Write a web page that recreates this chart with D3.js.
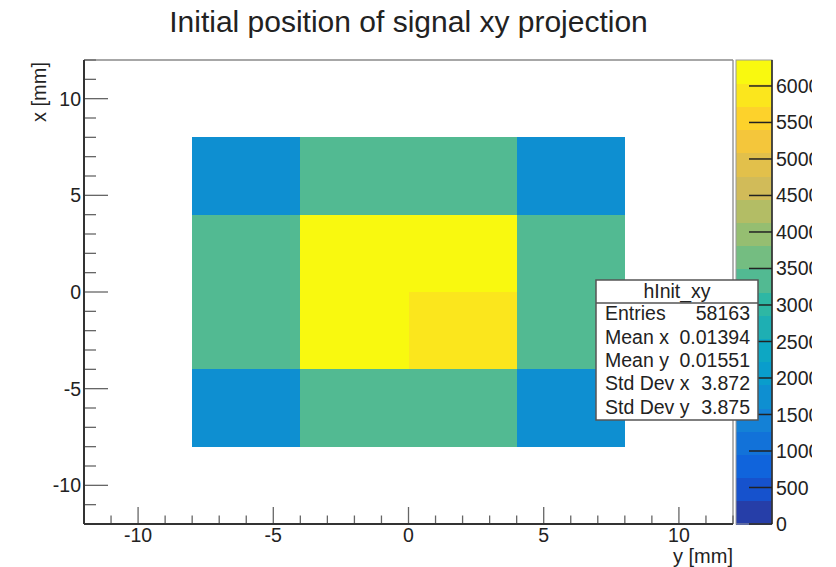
<!DOCTYPE html>
<html>
<head>
<meta charset="utf-8">
<script src="https://cdn.jsdelivr.net/npm/d3@7/dist/d3.min.js"></script>
<style>
  html, body { margin: 0; padding: 0; background: #fff; }
  svg { display: block; }
  text { font-family: "Liberation Sans", Arial, Helvetica, sans-serif; fill: #222; }
</style>
</head>
<body>
<script>
// ---------------- data ----------------
const titleText = "Initial position of signal xy projection";
const xAxisTitle = "y [mm]";
const yAxisTitle = "x [mm]";
const axisDomain = [-12, 12];
const xBinEdges = [-8, -4, 0, 4, 8];
const yBinEdges = [-8, -4, 0, 4, 8];
// counts[iy][ix], iy from bottom (-8..-4) to top (4..8)
const counts = [
  [1781, 3366, 3388, 1773],
  [3381, 6039, 5880, 3377],
  [3368, 6047, 6053, 3395],
  [1762, 3391, 3372, 1790]
];
const majorTicks = [-10, -5, 0, 5, 10];
const minorTicks = d3.range(-12, 13, 1);
const zTickValues = [0, 500, 1000, 1500, 2000, 2500, 3000, 3500, 4000, 4500, 5000, 5500, 6000];
const nContours = 20;
const statsName = "hInit_xy";
const statsLabels = ["Entries", "Mean x", "Mean y", "Std Dev x", "Std Dev y"];
const statsValues = ["58163", "0.01394", "0.01551", "3.872", "3.875"];

// kBird palette stops (ROOT)
const birdStops = [0.0000, 0.1250, 0.2500, 0.3750, 0.5000, 0.6250, 0.7500, 0.8750, 1.0000];
const birdR = [0.2082, 0.0592, 0.0780, 0.0232, 0.1802, 0.5301, 0.8186, 0.9956, 0.9764];
const birdG = [0.1664, 0.3599, 0.5041, 0.6419, 0.7178, 0.7492, 0.7328, 0.7862, 0.9832];
const birdB = [0.5293, 0.8684, 0.8385, 0.7914, 0.6425, 0.4662, 0.3499, 0.1968, 0.0539];

// ---------------- layout ----------------
const W = 836, H = 567;
const F = { left: 84, right: 733, top: 60, bottom: 524 };
const CB = { left: 736, right: 772 };
const labelFont = 19.5;
const statsFont = 19.5;

const svg = d3.select("body").append("svg").attr("width", W).attr("height", H);

// build ROOT-like 255 colour gradient table
const NCOL = 255;
const palette = [];
for (let g = 1; g < birdStops.length; g++) {
  const n = Math.floor(NCOL * birdStops[g]) - Math.floor(NCOL * birdStops[g - 1]);
  for (let c = 0; c < n; c++) {
    const r = birdR[g - 1] + c * (birdR[g] - birdR[g - 1]) / n;
    const gg = birdG[g - 1] + c * (birdG[g] - birdG[g - 1]) / n;
    const b = birdB[g - 1] + c * (birdB[g] - birdB[g - 1]) / n;
    palette.push(d3.rgb(r * 255, gg * 255, b * 255).formatHex());
  }
}
while (palette.length < NCOL) palette.push(d3.rgb(birdR[8]*255, birdG[8]*255, birdB[8]*255).formatHex());

const zMax = d3.max(counts.flat()) * 1.05;
const bandColor = i => palette[Math.min(NCOL - 1, Math.floor((i + 0.99) * NCOL / nContours))];
const colorOf = z => bandColor(Math.min(nContours - 1, Math.floor(z / (zMax / nContours))));

const x = d3.scaleLinear().domain(axisDomain).range([F.left, F.right]);
const y = d3.scaleLinear().domain(axisDomain).range([F.bottom, F.top]);
const z = d3.scaleLinear().domain([0, zMax]).range([F.bottom, F.top]);

// ---------------- title ----------------
svg.append("text").attr("x", (F.left + F.right) / 2).attr("y", 31.5)
  .attr("text-anchor", "middle").style("font-size", "30px").text(titleText);

// ---------------- cells ----------------
const cells = [];
counts.forEach((row, iy) => row.forEach((v, ix) => {
  if (v > 0) cells.push({ x0: xBinEdges[ix], x1: xBinEdges[ix + 1], y0: yBinEdges[iy], y1: yBinEdges[iy + 1], v });
}));
svg.append("g").selectAll("rect").data(cells).join("rect")
  .attr("x", d => x(d.x0)).attr("width", d => x(d.x1) - x(d.x0))
  .attr("y", d => y(d.y1)).attr("height", d => y(d.y0) - y(d.y1))
  .attr("fill", d => colorOf(d.v)).attr("shape-rendering", "crispEdges");

// ---------------- frame ----------------
svg.append("line").attr("x1", F.left).attr("x2", F.right).attr("y1", F.top).attr("y2", F.top)
  .attr("stroke", "#8a8a8a").attr("stroke-width", 1.3);
svg.append("line").attr("x1", F.right).attr("x2", F.right).attr("y1", F.top).attr("y2", F.bottom)
  .attr("stroke", "#8a8a8a").attr("stroke-width", 1.3);

const ax = svg.append("g");
minorTicks.forEach(t => {
  const major = majorTicks.includes(t);
  ax.append("line").attr("x1", x(t)).attr("x2", x(t))
    .attr("y1", F.bottom).attr("y2", F.bottom - (major ? 17 : 8.5))
    .attr("stroke", "#666").attr("stroke-width", 1.3);
  ax.append("line").attr("y1", y(t)).attr("y2", y(t))
    .attr("x1", F.left).attr("x2", F.left + (major ? 24 : 12))
    .attr("stroke", "#666").attr("stroke-width", 1.3);
});
ax.append("line").attr("x1", F.left).attr("x2", F.right).attr("y1", F.bottom).attr("y2", F.bottom)
  .attr("stroke", "#333").attr("stroke-width", 2);
ax.append("line").attr("x1", F.left).attr("x2", F.left).attr("y1", F.top).attr("y2", F.bottom)
  .attr("stroke", "#333").attr("stroke-width", 2);

majorTicks.forEach(t => {
  ax.append("text").attr("x", x(t)).attr("y", 542).attr("text-anchor", "middle")
    .style("font-size", labelFont + "px").text(t);
  ax.append("text").attr("x", 81).attr("y", y(t) + 0.36 * labelFont).attr("text-anchor", "end")
    .style("font-size", labelFont + "px").text(t);
});
svg.append("text").attr("x", F.right).attr("y", 563).attr("text-anchor", "end")
  .style("font-size", "20px").text(xAxisTitle);
svg.append("text").attr("transform", `translate(46,${F.top + 2}) rotate(-90)`)
  .attr("text-anchor", "end").style("font-size", "20px").text(yAxisTitle);

// ---------------- colour bar ----------------
const cb = svg.append("g");
const bands = d3.range(nContours).map(i => ({ i, z0: i * zMax / nContours, z1: (i + 1) * zMax / nContours }));
cb.selectAll("rect.band").data(bands).join("rect").attr("class", "band")
  .attr("x", CB.left).attr("width", CB.right - CB.left)
  .attr("y", d => z(d.z1)).attr("height", d => z(d.z0) - z(d.z1) + 0.5)
  .attr("fill", d => bandColor(d.i)).attr("shape-rendering", "crispEdges");
cb.append("rect").attr("x", CB.left).attr("y", F.top).attr("width", CB.right - CB.left)
  .attr("height", F.bottom - F.top).attr("fill", "none").attr("stroke", "#999").attr("stroke-width", 1);
cb.append("line").attr("x1", CB.right).attr("x2", CB.right).attr("y1", F.top).attr("y2", F.bottom)
  .attr("stroke", "#222").attr("stroke-width", 1.5);
const clip = svg.append("defs").append("clipPath").attr("id", "cbclip");
clip.append("rect").attr("x", 0).attr("y", 0).attr("width", 812).attr("height", H);
const cbl = svg.append("g").attr("clip-path", "url(#cbclip)");
zTickValues.forEach(t => {
  cb.append("line").attr("x1", CB.right - 23).attr("x2", CB.right).attr("y1", z(t)).attr("y2", z(t))
    .attr("stroke", "#222").attr("stroke-width", 1.5);
  cbl.append("text").attr("x", 776).attr("y", z(t) + 0.36 * labelFont)
    .style("font-size", labelFont + "px").text(t);
});

// ---------------- stats box ----------------
const SB = { x0: 596, x1: 758, y0: 280, y1: 420, head: 303 };
const sb = svg.append("g");
sb.append("rect").attr("x", SB.x0).attr("y", SB.y0).attr("width", SB.x1 - SB.x0).attr("height", SB.y1 - SB.y0)
  .attr("fill", "#fff").attr("stroke", "#555").attr("stroke-width", 1.5);
sb.append("line").attr("x1", SB.x0).attr("x2", SB.x1).attr("y1", SB.head).attr("y2", SB.head)
  .attr("stroke", "#555").attr("stroke-width", 1.3);
sb.append("text").attr("x", (SB.x0 + SB.x1) / 2).attr("y", 298).attr("text-anchor", "middle")
  .style("font-size", statsFont + "px").text(statsName);
const rowY = d3.scaleLinear().domain([0, statsLabels.length]).range([SB.head, SB.y1]);
statsLabels.forEach((l, i) => {
  const cy = (rowY(i) + rowY(i + 1)) / 2 - 1.5;
  sb.append("text").attr("x", 605).attr("y", cy + 0.36 * statsFont).style("font-size", statsFont + "px").text(l);
  sb.append("text").attr("x", 750).attr("y", cy + 0.36 * statsFont).attr("text-anchor", "end")
    .style("font-size", statsFont + "px").text(statsValues[i]);
});
</script>
</body>
</html>
